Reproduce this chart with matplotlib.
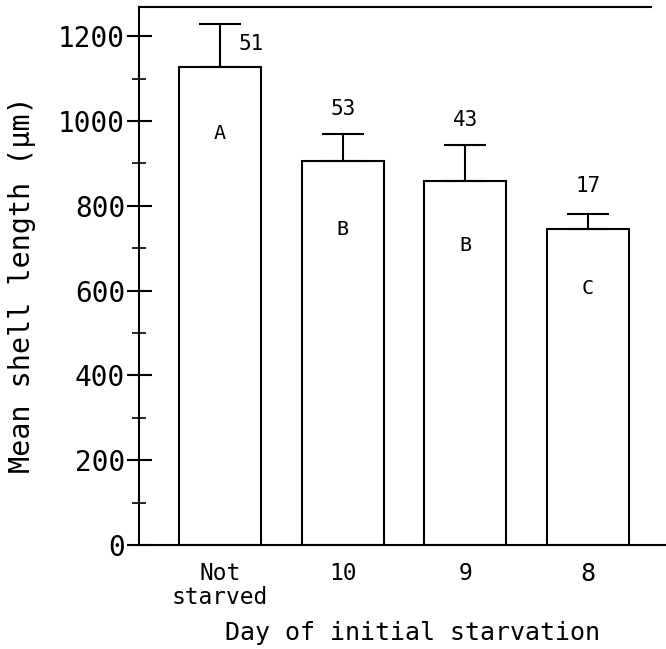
import matplotlib
matplotlib.use("Agg")
import matplotlib.pyplot as plt
from matplotlib.ticker import MultipleLocator

categories = ["Not\nstarved", "10", "9", "8"]
means = [1128, 906, 858, 745]
errors = [102, 63, 85, 36]
n_labels = ["51", "53", "43", "17"]
n_y = [1181, 1028, 1003, 847]
groups = ["A", "B", "B", "C"]
group_y = [970, 745, 707, 604]

FONT = "DejaVu Sans Mono"
plt.rcParams["font.family"] = [FONT, "DejaVu Sans"]

fig = plt.figure(figsize=(6.66, 6.49), dpi=100)
ax = fig.add_axes([139/666, 1-545/649, 1-139/666, (545-7)/649])

x = list(range(len(categories)))
ax.bar(x, means, width=0.668, color="white", edgecolor="black", linewidth=1.5, zorder=2)
ax.errorbar(x, means, yerr=[[0]*len(errors), errors], fmt="none", ecolor="black",
            elinewidth=1.5, capsize=15, capthick=1.5, zorder=3)

# n labels
ax.text(x[0] + 0.15, n_y[0], n_labels[0], ha="left", va="center", fontsize=15)
for i in range(1, len(x)):
    ax.text(x[i], n_y[i], n_labels[i], ha="center", va="center", fontsize=15)
for i in range(len(x)):
    ax.text(x[i], group_y[i], groups[i], ha="center", va="center", fontsize=14.5)

ax.set_xlim(-0.66, 3.636)
ax.set_ylim(0, 1269)
ax.spines["right"].set_visible(False)
ax.spines["top"].set_visible(False)
ax.spines["left"].set_linewidth(1.5)
ax.spines["bottom"].set_linewidth(1.5)
ax.axhline(1269, xmin=0, xmax=(651-139)/527, color="black", linewidth=1.5, clip_on=False)

ax.yaxis.set_major_locator(MultipleLocator(200))
ax.yaxis.set_minor_locator(MultipleLocator(100))
ax.tick_params(axis="y", which="major", direction="inout", length=18, width=1.5, labelsize=20, pad=1)
ax.tick_params(axis="y", which="minor", direction="inout", length=10, width=1.2)
ax.set_xticks(x)
ax.set_xticklabels(categories, fontsize=16.5, linespacing=1.1)
ax.get_xticklabels()[-1].set_fontsize(18)
ax.tick_params(axis="x", length=0, pad=12)

fig.text(412/666, 1-640/649, "Day of initial starvation", fontsize=18,
         ha="center", va="baseline")
fig.text(22/666, 1-285/649, "Mean shell length (μm)", fontsize=20.5,
         ha="center", va="center", rotation=90)

fig.savefig("out.png", dpi=100)
